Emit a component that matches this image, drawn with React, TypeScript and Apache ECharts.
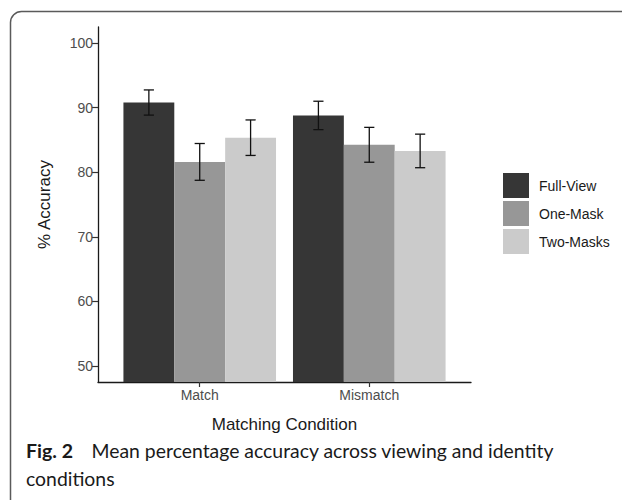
import React, { useEffect, useRef } from "react";
import * as echarts from "echarts";

const categories = ["Match", "Mismatch"];
const seriesNames = ["Full-View", "One-Mask", "Two-Masks"];
const fullView = [90.8, 88.8];
const oneMask = [81.6, 84.25];
const twoMasks = [85.35, 83.3];
const fullViewErr = [1.95, 2.2];
const oneMaskErr = [2.85, 2.7];
const twoMasksErr = [2.75, 2.6];
const yTicks = [50, 60, 70, 80, 90, 100];
const xTicks = [1, 2];
const colors = ["#363636", "#979797", "#cbcbcb"];

const values = [fullView, oneMask, twoMasks];
const errors = [fullViewErr, oneMaskErr, twoMasksErr];

const FONT = "'Liberation Sans', Arial, sans-serif";
const CAPTION_FONT = "Lato, 'Open Sans', sans-serif";

export default function App() {
  const ref = useRef<HTMLDivElement>(null);
  useEffect(() => {
    document.body.style.margin = "0";
    if (!ref.current) return;
    const chart = echarts.init(ref.current, null, { renderer: "svg" });

    const barSeries = values.map((vals, s) => ({
      type: "bar",
      name: seriesNames[s],
      data: vals.map((v, i) => [xTicks[i], v]),
      barWidth: "30%",
      barGap: "0%",
      itemStyle: { color: colors[s] },
      z: 2,
    }));

    const errSeries = values.map((vals, s) => ({
      type: "custom",
      name: "err" + s,
      data: vals.map((v, i) => [xTicks[i], v - errors[s][i], v + errors[s][i]]),
      encode: { x: 0, y: [1, 2] },
      z: 5,
      renderItem: (params: any, api: any) => {
        const x = api.value(0);
        const pLo = api.coord([x, api.value(1)]);
        const pHi = api.coord([x, api.value(2)]);
        const bw = api.size([0.3, 0])[0];
        const cx = pLo[0] + (s - 1) * bw;
        const half = bw * 0.1;
        const style = { stroke: "#111111", lineWidth: 1.3 };
        return {
          type: "group",
          children: [
            { type: "line", shape: { x1: cx, y1: pLo[1], x2: cx, y2: pHi[1] }, style },
            { type: "line", shape: { x1: cx - half, y1: pLo[1], x2: cx + half, y2: pLo[1] }, style },
            { type: "line", shape: { x1: cx - half, y1: pHi[1], x2: cx + half, y2: pHi[1] }, style },
          ],
        };
      },
    }));

    chart.setOption({
      animation: false,
      backgroundColor: "#ffffff",
      grid: { left: 98, right: 151, top: 27, bottom: 118, outerBoundsMode: "none" },
      legend: {
        data: seriesNames,
        orient: "vertical",
        left: 498,
        top: 168,
        itemWidth: 26,
        itemHeight: 25,
        itemGap: 3,
        icon: "rect",
        selectedMode: false,
        textStyle: { fontFamily: FONT, fontSize: 14, color: "#1a1a1a", padding: [0, 0, 0, 5] },
      },
      xAxis: {
        type: "value",
        min: 0.4,
        max: 2.6,
        name: "Matching Condition",
        nameLocation: "middle",
        nameGap: 34,
        nameTextStyle: { fontFamily: FONT, fontSize: 17, color: "#1a1a1a" },
        axisLine: { show: true, onZero: false, lineStyle: { color: "#1a1a1a", width: 1.3 } },
        axisTick: { show: true, length: 5, customValues: xTicks, lineStyle: { color: "#333", width: 1.2 } },
        axisLabel: {
          customValues: xTicks,
          margin: 6,
          fontFamily: FONT,
          fontSize: 14,
          color: "#4d4d4d",
          formatter: (v: number) => categories[Math.round(v) - 1] ?? "",
        },
        splitLine: { show: false },
      },
      yAxis: {
        type: "value",
        min: 47.5,
        max: 102.5,
        name: "% Accuracy",
        nameLocation: "middle",
        nameGap: 45,
        nameTextStyle: { fontFamily: FONT, fontSize: 17, color: "#1a1a1a" },
        axisLine: { show: true, onZero: false, lineStyle: { color: "#1a1a1a", width: 1.3 } },
        axisTick: { show: true, length: 6, customValues: yTicks, lineStyle: { color: "#333", width: 1.2 } },
        axisLabel: {
          customValues: yTicks,
          margin: 5,
          fontFamily: FONT,
          fontSize: 14,
          color: "#4d4d4d",
        },
        splitLine: { show: false },
      },
      graphic: [
        {
          type: "rect",
          shape: { x: 10.5, y: 11.5, width: 800, height: 800, r: 11 },
          style: { fill: "none", stroke: "#5a5a5a", lineWidth: 1.5 },
          silent: true,
        },
        {
          type: "text",
          x: 26,
          y: 450,
          style: { text: "Fig. 2", fontFamily: CAPTION_FONT, fontWeight: "bold", fontSize: 19.5, fill: "#1a1a1a", verticalAlign: "middle" },
        },
        {
          type: "text",
          x: 91.5,
          y: 450,
          style: { text: "Mean percentage accuracy across viewing and identity", fontFamily: CAPTION_FONT, fontSize: 19.4, fill: "#1a1a1a", verticalAlign: "middle" },
        },
        {
          type: "text",
          x: 26,
          y: 478,
          style: { text: "conditions", fontFamily: CAPTION_FONT, fontSize: 19.4, fill: "#1a1a1a", verticalAlign: "middle" },
        },
      ],
      series: [...barSeries, ...errSeries],
    });
    return () => chart.dispose();
  }, []);
  return <div ref={ref} style={{ width: 622, height: 500 }} />;
}
